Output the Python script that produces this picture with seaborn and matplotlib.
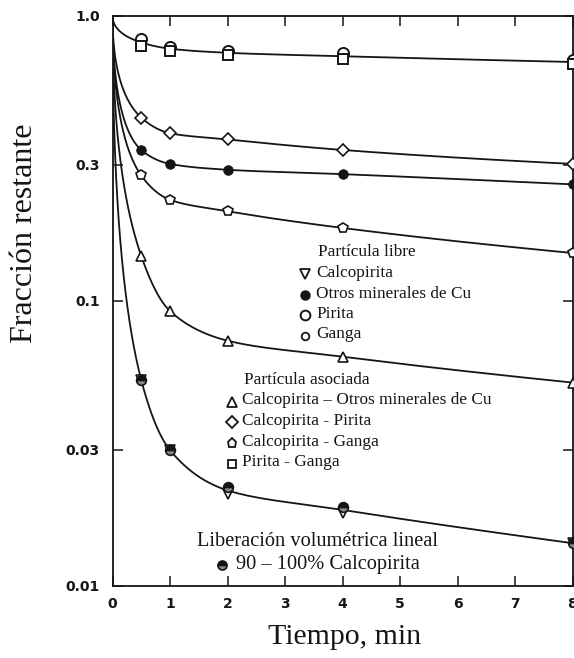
import numpy as np
import pandas as pd
import matplotlib
matplotlib.use("Agg")
import matplotlib.pyplot as plt
from matplotlib.lines import Line2D
from matplotlib.ticker import FixedLocator, NullLocator, FixedFormatter
import seaborn as sns

# ---- data: fraction of mineral remaining vs. flotation time ----
tiempo = [0.5, 1, 2, 4, 8]

pirita = [0.828, 0.778, 0.754, 0.738, 0.699]
pirita_ganga = [0.783, 0.754, 0.728, 0.703, 0.677]
calco_pirita = [0.439, 0.387, 0.368, 0.338, 0.302]
otros_cu = [0.338, 0.302, 0.288, 0.278, 0.256]
calco_ganga = [0.275, 0.226, 0.206, 0.180, 0.147]
calco_otros = [0.1435, 0.092, 0.0724, 0.0636, 0.0516]
calcopirita_libre = [0.0527, 0.0299, 0.0210, 0.0180, 0.0141]
calco_90_100 = [0.0527, 0.0299, 0.0222, 0.0189, 0.0141]

y_ticks = [0.01, 0.03, 0.1, 0.3, 1.0]
y_tick_labels = ["0.01", "0.03", "0.1", "0.3", "1.0"]
x_ticks = [0, 1, 2, 3, 4, 5, 6, 7, 8]

W, H = 574, 658
INK = "#151515"


def pchip(x, y, xn):
    """Monotone cubic Hermite interpolation."""
    x = np.asarray(x, float)
    y = np.asarray(y, float)
    h = np.diff(x)
    d = np.diff(y) / h
    n = len(x)
    m = np.zeros(n)
    for k in range(1, n - 1):
        if d[k - 1] * d[k] > 0:
            w1 = 2 * h[k] + h[k - 1]
            w2 = h[k] + 2 * h[k - 1]
            m[k] = (w1 + w2) / (w1 / d[k - 1] + w2 / d[k])

    def end(h0, h1, d0, d1):
        s = ((2 * h0 + h1) * d0 - h0 * d1) / (h0 + h1)
        if np.sign(s) != np.sign(d0):
            s = 0.0
        elif np.sign(d0) != np.sign(d1) and abs(s) > abs(3 * d0):
            s = 3 * d0
        return s

    m[0] = end(h[0], h[1], d[0], d[1])
    m[-1] = end(h[-1], h[-2], d[-1], d[-2])
    idx = np.clip(np.searchsorted(x, xn) - 1, 0, n - 2)
    t = (xn - x[idx]) / h[idx]
    h00 = 2 * t**3 - 3 * t**2 + 1
    h10 = t**3 - 2 * t**2 + t
    h01 = -2 * t**3 + 3 * t**2
    h11 = t**3 - t**2
    return (h00 * y[idx] + h10 * h[idx] * m[idx]
            + h01 * y[idx + 1] + h11 * h[idx] * m[idx + 1])


def smooth_curve(values):
    """Smooth fitted line starting at fraction 1 for t = 0."""
    t = np.array([0.0] + list(tiempo))
    v = np.array([1.0] + list(values))
    u = np.sqrt(t)
    tn = np.linspace(0, 8, 800) ** 2 / 8
    vn = 10 ** pchip(u, np.log10(v), np.sqrt(tn))
    return pd.DataFrame({"t": tn, "f": vn})


sns.set_theme(style="ticks")
plt.rcParams["font.family"] = ["DejaVu Sans"]

fig = plt.figure(figsize=(W / 100, H / 100), dpi=100)
fig.patch.set_facecolor("white")
ax_left, ax_right, ax_top, ax_bottom = 112.5, 572.5, 15.7, 585.7
ax = fig.add_axes([ax_left / W, 1 - ax_bottom / H,
                   (ax_right - ax_left) / W, (ax_bottom - ax_top) / H])
ax.set_facecolor("white")

# fitted lines (the two overlapping series share one line through their mean)
curves = [
    np.mean([pirita, pirita_ganga], axis=0),
    calco_pirita,
    otros_cu,
    calco_ganga,
    calco_otros,
    np.mean([calcopirita_libre, calco_90_100], axis=0),
]
for c in curves:
    df = smooth_curve(c)
    sns.lineplot(data=df, x="t", y="f", ax=ax, color=INK, lw=1.3,
                 estimator=None, sort=False)

# data markers
open_kw = dict(mfc="white", mec=INK, ls="none", clip_on=False, zorder=5)
ax.plot(tiempo, pirita, marker="o", ms=8, mew=1.4, **open_kw)
ax.plot(tiempo, pirita_ganga, marker="s", ms=7, mew=1.4, **open_kw)
ax.plot(tiempo, calco_pirita, marker="D", ms=6, mew=1.2, **open_kw)
sns.scatterplot(x=tiempo, y=otros_cu, ax=ax, marker="o", s=48, color=INK,
                edgecolor=INK, zorder=5, clip_on=False)
ax.plot(tiempo, calco_ganga, marker="p", ms=7, mew=1.2, **open_kw)
ax.plot(tiempo, calco_otros, marker="^", ms=7.5, mew=1.2, **open_kw)
ax.plot(tiempo, calcopirita_libre, marker="v", ms=7, mew=1.2, **open_kw)
ax.plot(tiempo, calco_90_100, marker="o", ms=7, mew=1.2, ls="none",
        color=INK, fillstyle="top", mfc=INK, mfcalt="#888888", mec=INK,
        clip_on=False, zorder=6)

# axes
ax.set_yscale("log")
ax.set_xlim(0, 8)
ax.set_ylim(0.01, 1.0)
ax.yaxis.set_major_locator(FixedLocator(y_ticks))
ax.yaxis.set_major_formatter(FixedFormatter(y_tick_labels))
ax.yaxis.set_minor_locator(NullLocator())
ax.set_xticks(x_ticks)
ax.set_xticklabels([str(x) for x in x_ticks])
ax.tick_params(axis="both", which="major", direction="in", length=7.5,
               width=1.1, color=INK, top=True, right=True,
               labelsize=10, labelcolor=INK)
ax.tick_params(axis="y", pad=9)
ax.tick_params(axis="x", pad=8)
for lab in ax.get_xticklabels() + ax.get_yticklabels():
    lab.set_fontweight("bold")
for sp in ax.spines.values():
    sp.set_visible(True)
    sp.set_color(INK)
    sp.set_linewidth(1.3)
ax.set_xlabel("")
ax.set_ylabel("")


def fx(x, y):
    return x / W, 1 - y / H


serif = ["Liberation Serif", "DejaVu Serif"]

fig.text(*fx(345, 637), "Tiempo, min", family=serif, fontsize=21.5,
         ha="center", va="center", color=INK)
fig.text(*fx(25, 233), "Fracción restante", family=serif, fontsize=23,
         rotation=90, ha="center", va="center", color=INK)


def legend_marker(x, y, **kw):
    fig.add_artist(Line2D([x / W], [1 - y / H], transform=fig.transFigure,
                          ls="none", **kw))


def legend_text(x, y, s, size=12.4):
    fig.text(*fx(x, y), s, family=serif, fontsize=size, ha="left",
             va="center", color=INK)


# free-particle block
legend_text(318, 252, "Partícula libre")
rows_libre = [
    (273, "Calcopirita", dict(marker="v", ms=6.5, mfc="white", mec=INK, mew=1.3)),
    (293.5, "Otros minerales de Cu", dict(marker="o", ms=6.5, mfc=INK, mec=INK)),
    (314, "Pirita", dict(marker="o", ms=7, mfc="white", mec=INK, mew=1.4)),
    (334.5, "Ganga", dict(marker="o", ms=5.5, mfc="white", mec=INK, mew=1.3)),
]
for y, s, kw in rows_libre:
    legend_marker(305, y + 1, **kw)
    legend_text(316, y, s)

# associated-particle block
legend_text(244, 380, "Partícula asociada")
rows_asoc = [
    (400.5, "Calcopirita – Otros minerales de Cu",
     dict(marker="^", ms=6.5, mfc="white", mec=INK, mew=1.3)),
    (421, "Calcopirita - Pirita",
     dict(marker="D", ms=6, mfc="white", mec=INK, mew=1.3)),
    (442, "Calcopirita - Ganga",
     dict(marker="p", ms=6.5, mfc="white", mec=INK, mew=1.3)),
    (462.5, "Pirita - Ganga",
     dict(marker="s", ms=6, mfc="white", mec=INK, mew=1.3)),
]
for y, s, kw in rows_asoc:
    legend_marker(232, y + 1, **kw)
    legend_text(242, y, s)

# linear volumetric liberation
legend_text(197, 541, "Liberación volumétrica lineal", size=14.7)
legend_marker(222, 565, marker="o", ms=6.5, fillstyle="top", mfc=INK,
              mfcalt="#888888", mec=INK, mew=1.2)
legend_text(236, 565, "90 – 100% Calcopirita", size=14.7)

fig.savefig("out.png", dpi=100, facecolor="white")
